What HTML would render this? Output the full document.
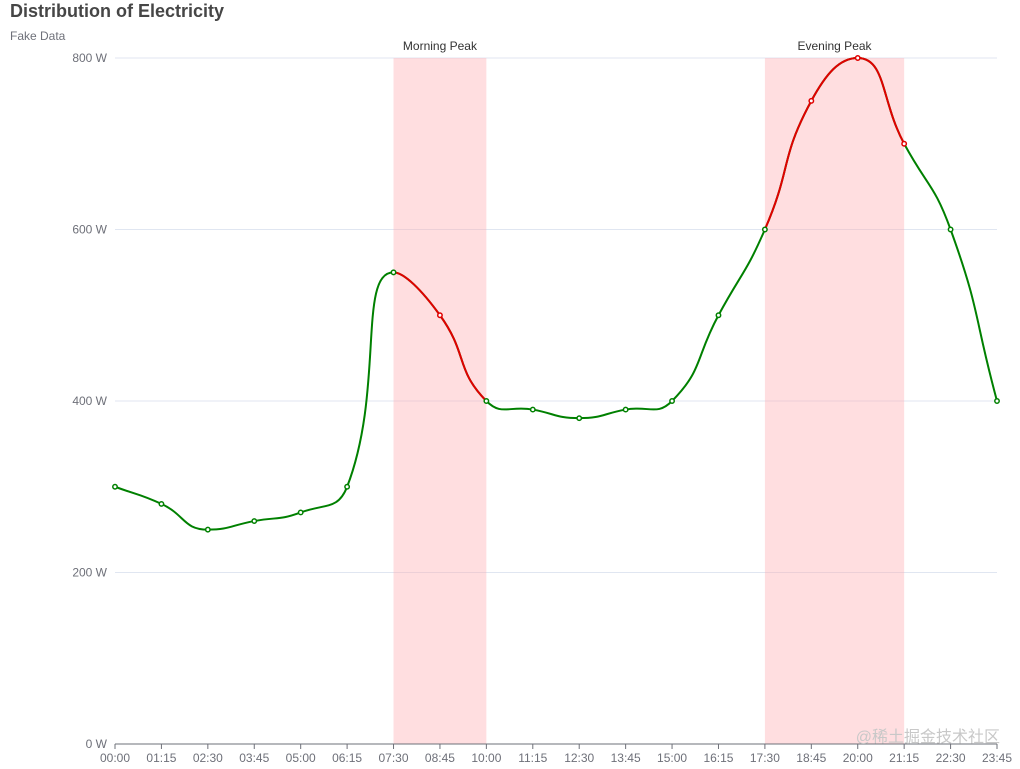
<!DOCTYPE html>
<html><head><meta charset="utf-8"><style>
html,body{margin:0;padding:0;background:#fff;width:1020px;height:769px;overflow:hidden}
svg{display:block;font-family:"Liberation Sans","Noto Sans CJK SC",sans-serif}
</style></head><body>
<svg id="s" width="1020" height="769" xmlns="http://www.w3.org/2000/svg">
<text x="10" y="17" font-size="18" font-weight="bold" fill="#464646">Distribution of Electricity</text>
<text x="10" y="40" font-size="12" fill="#6e7079">Fake Data</text>
<g id="g"></g>
<text x="1000" y="742" font-size="16" fill="#c8c8c8" text-anchor="end">@稀土掘金技术社区</text>
</svg>
<script>
const data=[300,280,250,260,270,300,550,500,400,390,380,390,400,500,600,750,800,700,600,400];
const labels=["00:00","01:15","02:30","03:45","05:00","06:15","07:30","08:45","10:00","11:15","12:30","13:45","15:00","16:15","17:30","18:45","20:00","21:15","22:30","23:45"];
const X0=115,X1=997,Y0=744,Y800=58;
const st=(X1-X0)/19;
const px=i=>X0+i*st, py=v=>Y0-(Y0-Y800)*v/800;
let h='';
[0,200,400,600,800].forEach(v=>{const y=py(v);
 if(v>0)h+=`<line x1="${X0}" x2="${X1}" y1="${y}" y2="${y}" stroke="#e0e6f1"/>`;
 h+=`<text x="107" y="${y+4}" font-size="12" fill="#6e7079" text-anchor="end">${v} W</text>`;});
[[6,8,'Morning Peak'],[14,17,'Evening Peak']].forEach(([a,b,t])=>{
 h+=`<rect x="${px(a)}" y="${Y800}" width="${px(b)-px(a)}" height="${Y0-Y800}" fill="rgba(255,173,177,0.4)"/>`;
 h+=`<text x="${(px(a)+px(b))/2}" y="50" font-size="12" fill="#333" text-anchor="middle">${t}</text>`;});
h+=`<line x1="${X0}" x2="${X1}" y1="${Y0}" y2="${Y0}" stroke="#6e7079"/>`;
labels.forEach((l,i)=>{const x=px(i);
 h+=`<line x1="${x}" x2="${x}" y1="${Y0}" y2="${Y0+5}" stroke="#6e7079"/>`;
 h+=`<text x="${x}" y="${Y0+18}" font-size="12" fill="#6e7079" text-anchor="middle">${l}</text>`;});
const P=data.map((v,i)=>[px(i),py(v)]);
const sm=0.5;let cps=[];
P.forEach((c,i)=>{const p=P[Math.max(i-1,0)],n=P[Math.min(i+1,P.length-1)];
 let vx=(n[0]-p[0])*sm,vy=(n[1]-p[1])*sm;
 if((c[1]-p[1])*(c[1]-n[1])>0) vy=0;
 const d0=Math.hypot(c[0]-p[0],c[1]-p[1]),d1=Math.hypot(n[0]-c[0],n[1]-c[1]);
 const r=d0+d1?d0/(d0+d1):0.5;
 cps.push([[c[0]-vx*r,c[1]-vy*r],[c[0]+vx*(1-r),c[1]+vy*(1-r)]]);});
let d=`M${P[0][0]},${P[0][1]}`;
for(let i=1;i<P.length;i++){d+=`C${cps[i-1][1][0]},${cps[i-1][1][1]} ${cps[i][0][0]},${cps[i][0][1]} ${P[i][0]},${P[i][1]}`;}
h+=`<defs><clipPath id="c"><rect x="${px(6)}" y="0" width="${px(8)-px(6)}" height="769"/><rect x="${px(14)}" y="0" width="${px(17)-px(14)}" height="769"/></clipPath></defs>`;
h+=`<path d="${d}" fill="none" stroke="green" stroke-width="2"/>`;
h+=`<path d="${d}" fill="none" stroke="#e00000" stroke-width="2" clip-path="url(#c)"/>`;
P.forEach((p,i)=>{
 const col=(i==7||i==15||i==16||i==17)?'#e00000':'green';
 h+=`<circle cx="${p[0]}" cy="${p[1]}" r="2.2" fill="#fff" stroke="${col}" stroke-width="1.5"/>`;});
document.getElementById('g').innerHTML=h;
</script>
</body></html>
